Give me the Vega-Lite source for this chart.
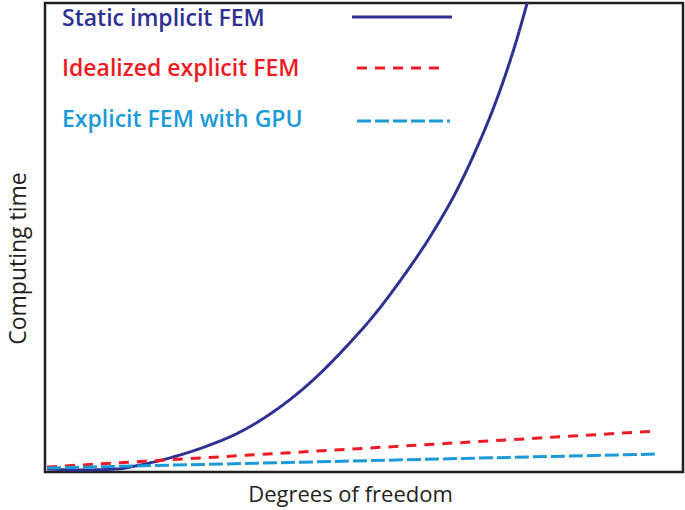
{
  "$schema": "https://vega.github.io/schema/vega-lite/v6.json",
  "width": 638,
  "height": 469,
  "autosize": "none",
  "padding": {"left": 45, "top": 3, "right": 2, "bottom": 38},
  "background": "white",
  "config": {
    "view": {"stroke": "#231f20", "strokeWidth": 2.5},
    "font": "Open Sans"
  },
  "datasets": {
    "curves": [
      {"series": "Static implicit FEM", "dof": 2, "time": 3},
      {"series": "Static implicit FEM", "dof": 35, "time": 2},
      {"series": "Static implicit FEM", "dof": 72, "time": 3},
      {"series": "Static implicit FEM", "dof": 95, "time": 7},
      {"series": "Static implicit FEM", "dof": 128, "time": 15},
      {"series": "Static implicit FEM", "dof": 162, "time": 26},
      {"series": "Static implicit FEM", "dof": 195, "time": 40},
      {"series": "Static implicit FEM", "dof": 228, "time": 60},
      {"series": "Static implicit FEM", "dof": 267, "time": 91},
      {"series": "Static implicit FEM", "dof": 300, "time": 124},
      {"series": "Static implicit FEM", "dof": 330, "time": 158},
      {"series": "Static implicit FEM", "dof": 355, "time": 191},
      {"series": "Static implicit FEM", "dof": 388, "time": 240},
      {"series": "Static implicit FEM", "dof": 412, "time": 282},
      {"series": "Static implicit FEM", "dof": 430, "time": 320},
      {"series": "Static implicit FEM", "dof": 450, "time": 368},
      {"series": "Static implicit FEM", "dof": 471, "time": 430},
      {"series": "Static implicit FEM", "dof": 483, "time": 472},
      {"series": "Idealized explicit FEM", "dof": 2, "time": 5},
      {"series": "Idealized explicit FEM", "dof": 613, "time": 41},
      {"series": "Explicit FEM with GPU", "dof": 2, "time": 4},
      {"series": "Explicit FEM with GPU", "dof": 613, "time": 18}
    ],
    "legend": [
      {"series": "Static implicit FEM", "tx": 17, "ty": 453, "lx": 307, "lx2": 407, "ly": 455},
      {"series": "Idealized explicit FEM", "tx": 17, "ty": 403, "lx": 312, "lx2": 402, "ly": 404},
      {"series": "Explicit FEM with GPU", "tx": 17, "ty": 352, "lx": 312, "lx2": 405, "ly": 351}
    ]
  },
  "layer": [
    {
      "data": {"name": "curves"},
      "mark": {"type": "line", "clip": true, "interpolate": "monotone", "strokeWidth": 3},
      "encoding": {
        "x": {"field": "dof", "type": "quantitative", "scale": {"domain": [0, 638], "nice": false, "zero": false},
          "axis": {"title": "Degrees of freedom", "labels": false, "ticks": false, "domain": false, "grid": false, "titleFontSize": 22, "titleFontWeight": "normal", "titleColor": "#231f20", "titlePadding": 12, "titleX": 305}},
        "y": {"field": "time", "type": "quantitative", "scale": {"domain": [0, 469], "nice": false, "zero": false},
          "axis": {"title": "Computing time", "labels": false, "ticks": false, "domain": false, "grid": false, "titleFontSize": 23, "titleFontWeight": "normal", "titleColor": "#231f20", "titlePadding": 15, "titleY": 255}},
        "color": {"field": "series", "type": "nominal", "legend": null,
          "scale": {"domain": ["Static implicit FEM", "Idealized explicit FEM", "Explicit FEM with GPU"], "range": ["#2e3192", "#ed1c24", "#1b9ad6"]}},
        "strokeDash": {"field": "series", "type": "nominal", "legend": null,
          "scale": {"domain": ["Static implicit FEM", "Idealized explicit FEM", "Explicit FEM with GPU"], "range": [[1, 0], [10, 8], [14, 4]]}},
        "order": {"field": "dof", "type": "quantitative"}
      }
    },
    {
      "data": {"name": "legend"},
      "mark": {"type": "text", "align": "left", "baseline": "middle", "fontSize": 23, "fontWeight": 600},
      "encoding": {
        "x": {"field": "tx", "type": "quantitative"},
        "y": {"field": "ty", "type": "quantitative"},
        "text": {"field": "series"},
        "color": {"field": "series", "type": "nominal", "legend": null}
      }
    },
    {
      "data": {"name": "legend"},
      "mark": {"type": "rule", "strokeWidth": 3},
      "encoding": {
        "x": {"field": "lx", "type": "quantitative"},
        "x2": {"field": "lx2"},
        "y": {"field": "ly", "type": "quantitative"},
        "color": {"field": "series", "type": "nominal", "legend": null},
        "strokeDash": {"field": "series", "type": "nominal", "legend": null}
      }
    }
  ]
}
